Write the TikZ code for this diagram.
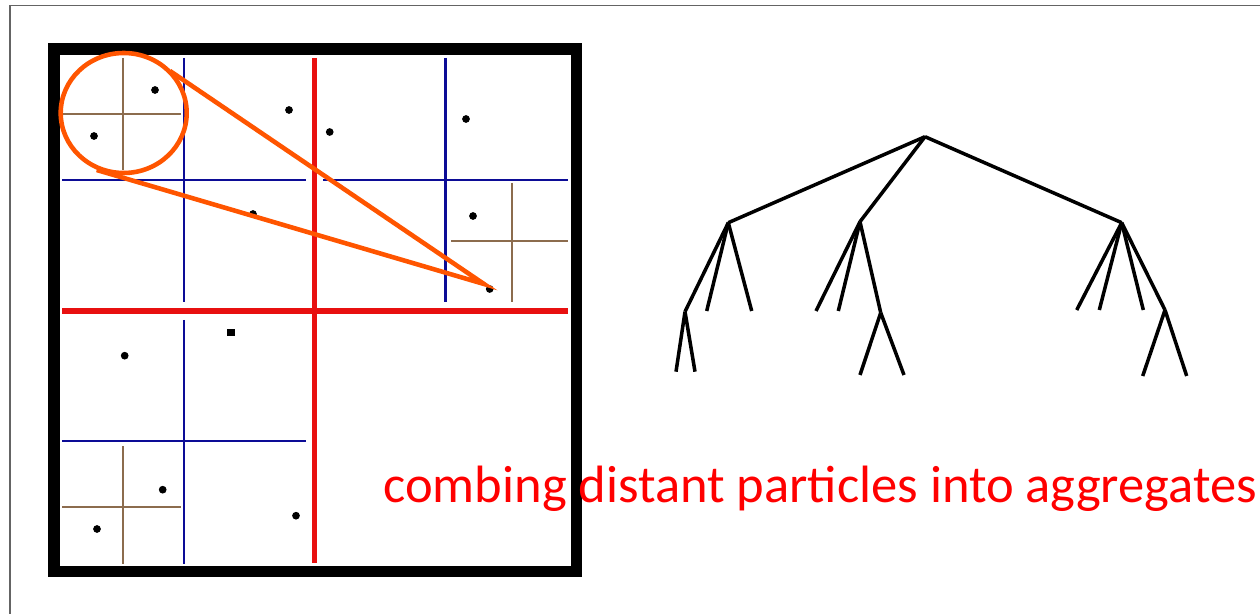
\documentclass[tikz,border=0pt]{standalone}
\usepackage{fontspec}
\setmainfont{Carlito}
\definecolor{rojo}{RGB}{232,16,16}
\definecolor{azul}{RGB}{12,12,150}
\definecolor{cafe}{RGB}{140,108,78}
\definecolor{naranja}{RGB}{255,85,0}
\definecolor{marco}{RGB}{100,100,100}
\begin{document}
\begin{tikzpicture}[x=0.02cm, y=-0.02cm,
    particula/.style={circle, fill=black, inner sep=0pt, minimum size=4.4pt},
    corte/.style={line width=3pt, rojo},
    subcorte/.style={line width=1.6pt, azul},
    hoja/.style={line width=1.1pt, cafe},
    rama/.style={line width=2pt, line join=round}]
        \useasboundingbox (0,0) rectangle (1260,614);
        \clip (0,0) rectangle (1260,614);

        % Marco de la diapositiva
        \draw[marco, line width=0.6pt] (10,700) -- (10,5.3) -- (1300,5.3);

        % La caja (borde negro grueso)
        \draw[line width=6.8pt] (54,49) rectangle (576.5,571.5);

        % Primer corte (rojo)
        \draw[corte] (314.5,58) -- (314.5,563);
        \draw[corte] (62,311) -- (568,311);

        % Segundo nivel (azul)
        \draw[subcorte] (184,58) -- (184,302);
        \draw[subcorte] (62,180) -- (306,180);
        \draw[subcorte] (445.7,58) -- (445.7,302);
        \draw[subcorte] (323,180) -- (568,180);
        \draw[subcorte] (184,320) -- (184,564);
        \draw[subcorte] (62,441) -- (306,441);

        % Tercer nivel (cafe)
        \draw[hoja] (123,58) -- (123,170);
        \draw[hoja] (63,114) -- (181,114);
        \draw[hoja] (511.7,183) -- (511.7,302);
        \draw[hoja] (451,241) -- (568,241);
        \draw[hoja] (123,446) -- (123,564);
        \draw[hoja] (62,507) -- (181,507);

        % Particulas
        \foreach \n/\x/\y in {1/155/90, 2/94/136, 3/289/110, 4/329.7/132,
            5/466/119, 6/253/214, 7/473/216, 8/489.7/289, 9/124.7/355.7,
            10/162.7/489.7, 11/97/529, 12/296/515.7}
            \node[particula] (p\n) at (\x,\y) {};
        \node[fill=black, inner sep=0pt, minimum size=4pt] (p13) at (231,332.7) {};

        % Lupa (naranja)
        \draw[naranja, line width=2.6pt] (123.7,113) ellipse [x radius=63, y radius=60];
        \coordinate (lupaA) at (170,71);
        \coordinate (lupaB) at (96.7,170);
        \coordinate (punta) at (484,284);
        \draw[naranja, line width=2.6pt, line join=miter] (lupaA) -- (punta) -- (lupaB);

        % Arbol
        \coordinate (raiz) at (925,136.7);
        \coordinate (nA) at (728.3,222.7);
        \coordinate (nB) at (860,221.7);
        \coordinate (nC) at (1121.7,222.7);
        \coordinate (nA1) at (685,311.7);
        \coordinate (nA2) at (706.7,311);
        \coordinate (nA3) at (751.7,311);
        \coordinate (nA11) at (676,371.7);
        \coordinate (nA12) at (695,371.7);
        \coordinate (nB1) at (816,311);
        \coordinate (nB2) at (838.3,311);
        \coordinate (nB3) at (880.7,312.7);
        \coordinate (nB31) at (860,375);
        \coordinate (nB32) at (904,375);
        \coordinate (nC1) at (1076.7,310);
        \coordinate (nC2) at (1099.3,310);
        \coordinate (nC3) at (1143.3,310);
        \coordinate (nC4) at (1165,310);
        \coordinate (nC41) at (1142.7,376);
        \coordinate (nC42) at (1186.7,376);
        \foreach \a/\b in {raiz/nA, raiz/nB, raiz/nC, nA/nA1, nA/nA2, nA/nA3,
            nA1/nA11, nA1/nA12, nB/nB1, nB/nB2, nB/nB3, nB3/nB31, nB3/nB32,
            nC/nC1, nC/nC2, nC/nC3, nC/nC4, nC4/nC41, nC4/nC42}
            \draw[rama] (\a) -- (\b);

        % Leyenda
        \node[anchor=base west, inner sep=0pt, text=red,
            font=\fontsize{29.9pt}{32pt}\selectfont] (leyenda) at (383,502)
            {combing distant particles into aggregates};
\end{tikzpicture}
\end{document}
